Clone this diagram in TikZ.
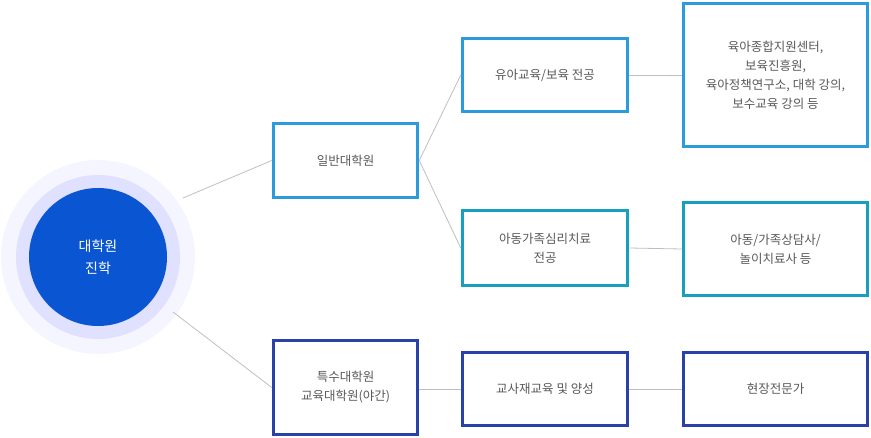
\documentclass[tikz,border=0pt]{standalone}
\usepackage{fontspec}
\setmainfont{Noto Sans CJK KR}
\begin{document}
\begin{tikzpicture}[x=1pt,y=-1pt,
  bx/.style={draw=#1,line width=3.5pt,fill=white,inner sep=0pt,align=center,text=black!65,font=\fontsize{12.5}{19}\selectfont},
  ln/.style={draw=black!25,line width=0.8pt}]
\definecolor{cA}{HTML}{2C9BDB}\definecolor{cB}{HTML}{17A0BE}\definecolor{cC}{HTML}{2A42A8}
\useasboundingbox (0,0) rectangle (871,438);
\fill[blue!4] (98,257) circle (97);
\fill[blue!12] (98,257) circle (82);
\node[circle,fill={rgb,255:red,10;green,85;blue,210},minimum size=138pt,inner sep=0pt,text=white,align=center,font=\fontsize{14}{22}\selectfont] (c) at (98,257) {대학원\\진학};
\node[bx=cA,minimum width=144pt,minimum height=74pt] (g) at (345.5,160.5) {일반대학원};
\node[bx=cC,minimum width=144pt,minimum height=94pt] (s) at (345.5,387.5) {특수대학원\\교육대학원(야간)};
\node[bx=cA,minimum width=165pt,minimum height=73pt] (a1) at (545,75) {유아교육/보육 전공};
\node[bx=cB,minimum width=165pt,minimum height=75pt] (a2) at (545,248) {아동가족심리치료\\전공};
\node[bx=cC,minimum width=165pt,minimum height=73pt] (a3) at (545,389) {교사재교육 및 양성};
\node[bx=cA,minimum width=184pt,minimum height=143pt] (b1) at (775.5,75) {육아종합지원센터,\\보육진흥원,\\육아정책연구소, 대학 강의,\\보수교육 강의 등};
\node[bx=cB,minimum width=184pt,minimum height=93pt] (b2) at (775.5,249) {아동/가족상담사/\\놀이치료사 등};
\node[bx=cC,minimum width=184pt,minimum height=73pt] (b3) at (775.5,389) {현장전문가};
\begin{scope}[on background layer/.try]
\end{scope}
\draw[ln] (183,198) -- (g.west);
\draw[ln] (173,312) -- (s.west);
\draw[ln] (g.east) -- (a1.west);
\draw[ln] (g.east) -- (a2.west);
\draw[ln] (s.east|-a3) -- (a3.west);
\draw[ln] (a1.east) -- (b1.west);
\draw[ln] (a2.east) -- (b2.west);
\draw[ln] (a3.east) -- (b3.west);
\end{tikzpicture}
\end{document}
